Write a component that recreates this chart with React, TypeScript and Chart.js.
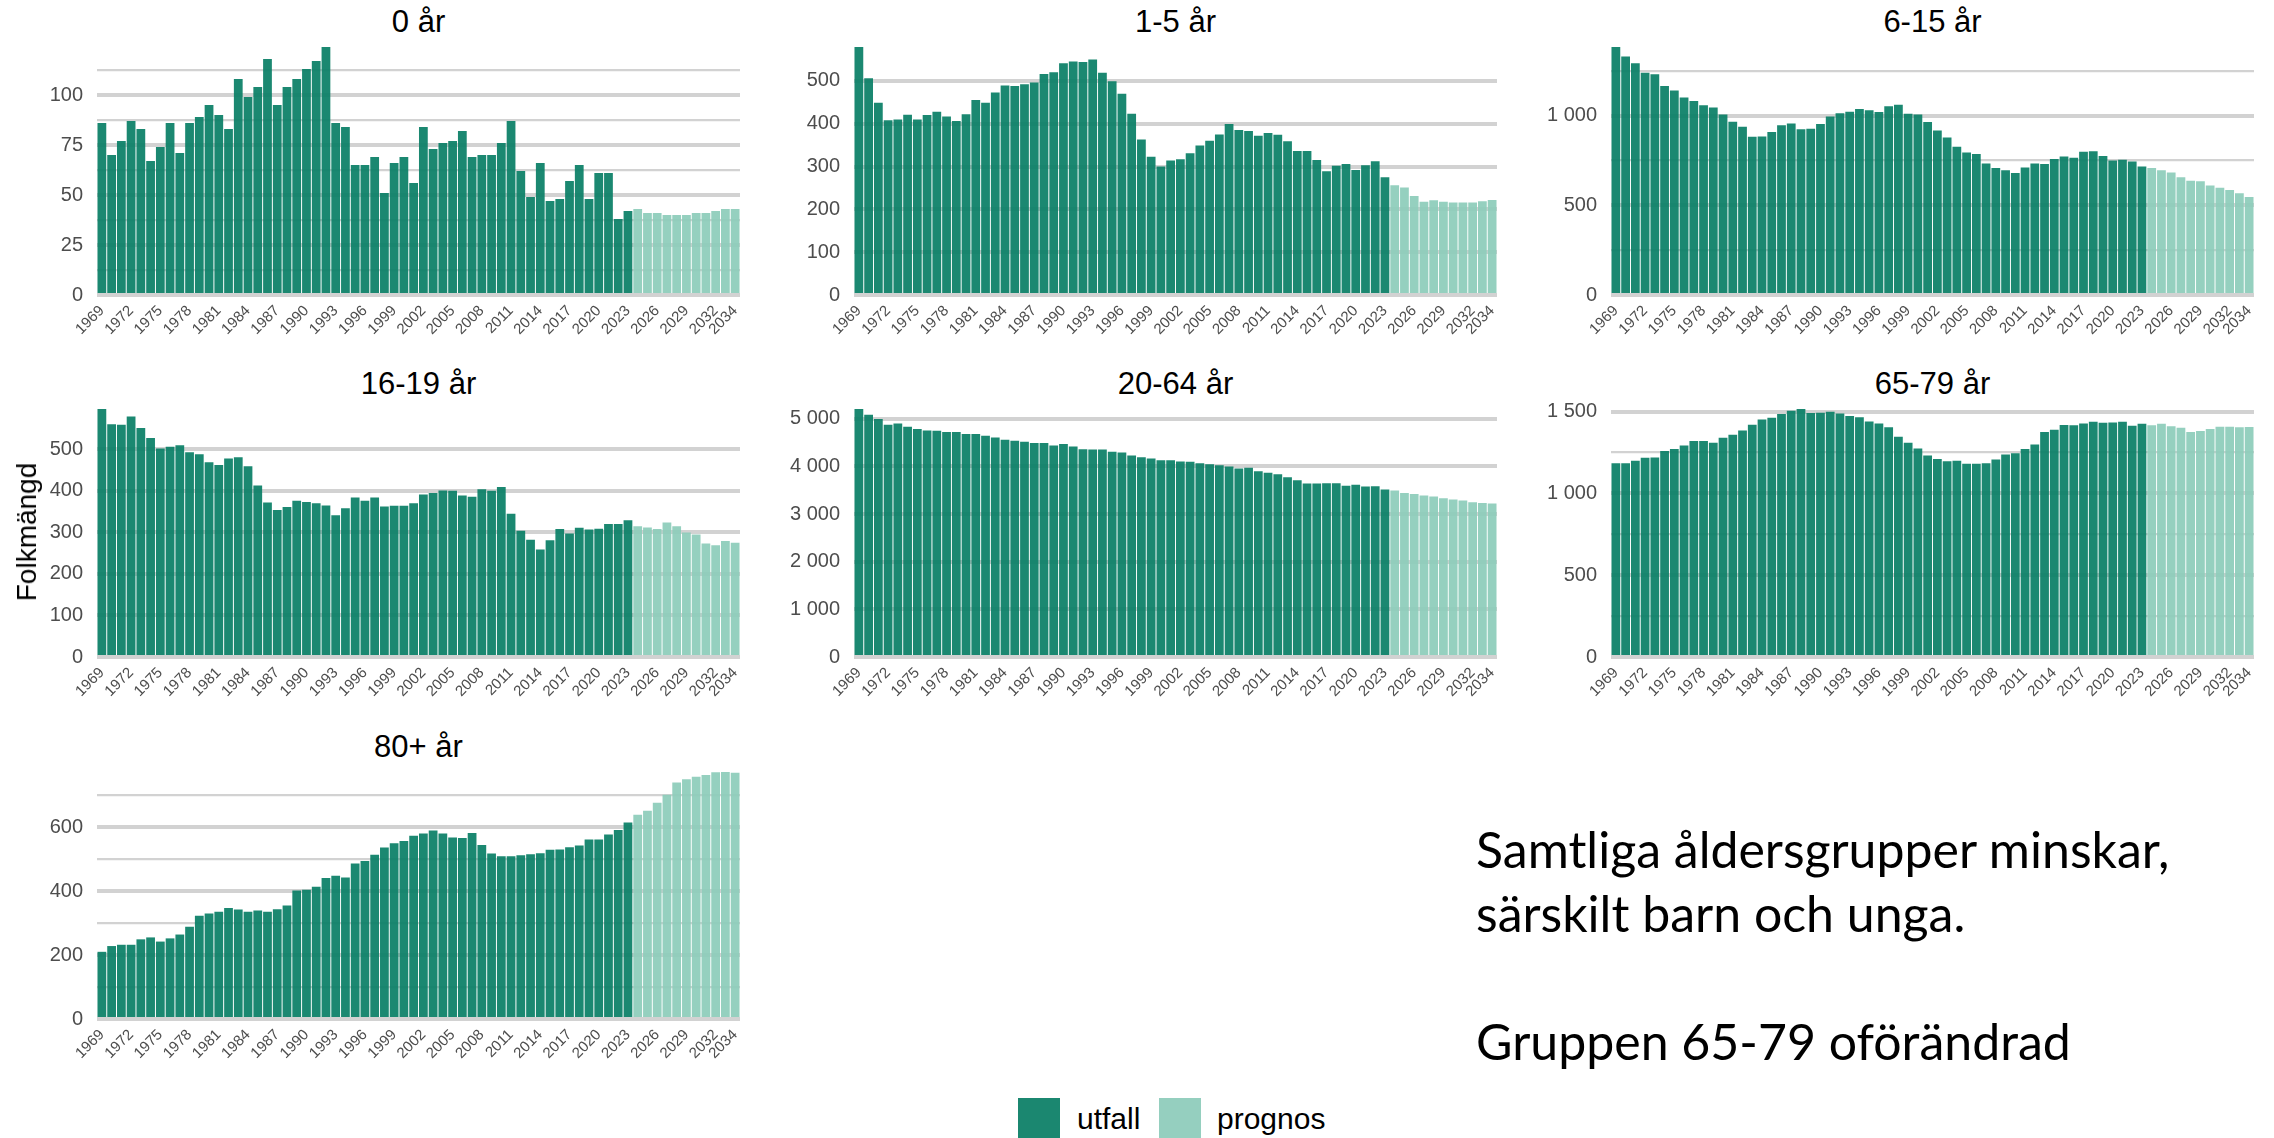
import React, { useEffect, useRef } from 'react';
import { Chart, registerables } from 'chart.js';

Chart.register(...registerables);

// ---------- categories ----------
const YEARS = [
  1969, 1970, 1971, 1972, 1973, 1974, 1975, 1976, 1977, 1978,
  1979, 1980, 1981, 1982, 1983, 1984, 1985, 1986, 1987, 1988,
  1989, 1990, 1991, 1992, 1993, 1994, 1995, 1996, 1997, 1998,
  1999, 2000, 2001, 2002, 2003, 2004, 2005, 2006, 2007, 2008,
  2009, 2010, 2011, 2012, 2013, 2014, 2015, 2016, 2017, 2018,
  2019, 2020, 2021, 2022, 2023, 2024, 2025, 2026, 2027, 2028,
  2029, 2030, 2031, 2032, 2033, 2034,
];

const X_TICK_LABELS = [
  '1969', '1972', '1975', '1978', '1981', '1984', '1987', '1990', '1993', '1996',
  '1999', '2002', '2005', '2008', '2011', '2014', '2017', '2020', '2023', '2026',
  '2029', '2032', '2034',
];

const SERIES_NAMES = ['utfall', 'prognos'];

// ---------- values (utfall 1969-2023, prognos 2024-2034) ----------
const AGE_0_UTFALL = [
  86, 70, 77, 87, 83, 67, 74, 86, 71, 86,
  89, 95, 90, 83, 108, 99, 104, 118, 95, 104,
  108, 113, 117, 124, 86, 84, 65, 65, 69, 51,
  66, 69, 56, 84, 73, 76, 77, 82, 69, 70,
  70, 76, 87, 62, 49, 66, 47, 48, 57, 65,
  48, 61, 61, 38, 42,
];
const AGE_0_PROGNOS = [43, 41, 41, 40, 40, 40, 41, 41, 42, 43, 43];

const AGE_1_5_UTFALL = [
  579, 506, 449, 408, 410, 421, 410, 420, 428, 417,
  406, 422, 455, 449, 473, 489, 488, 492, 496, 516,
  520, 541, 545, 544, 550, 519, 499, 470, 423, 363,
  323, 300, 314, 317, 331, 349, 360, 375, 399, 385,
  383, 372, 378, 374, 359, 336, 336, 315, 289, 302,
  306, 292, 303, 312, 275,
];
const AGE_1_5_PROGNOS = [256, 251, 231, 218, 221, 218, 216, 216, 216, 219, 222];

const AGE_6_15_UTFALL = [
  1383, 1330, 1292, 1240, 1231, 1166, 1141, 1102, 1082, 1058,
  1046, 1007, 966, 938, 883, 884, 909, 946, 957, 925,
  927, 953, 996, 1013, 1022, 1037, 1030, 1020, 1052, 1061,
  1011, 1007, 965, 918, 879, 827, 795, 786, 734, 708,
  696, 680, 711, 734, 730, 758, 773, 765, 799, 801,
  775, 750, 754, 745, 717,
];
const AGE_6_15_PROGNOS = [708, 695, 683, 657, 637, 635, 611, 598, 585, 568, 547];

const AGE_16_19_UTFALL = [
  597, 560, 559, 579, 551, 527, 502, 506, 510, 493,
  488, 469, 462, 478, 481, 459, 413, 372, 354, 361,
  376, 373, 370, 365, 341, 358, 384, 376, 384, 362,
  364, 364, 370, 391, 395, 401, 400, 389, 386, 404,
  400, 409, 345, 304, 282, 259, 281, 308, 297, 311,
  307, 309, 320, 320, 329,
];
const AGE_16_19_PROGNOS = [315, 312, 308, 324, 315, 300, 295, 273, 269, 279, 275];

const AGE_20_64_UTFALL = [
  5204, 5084, 4993, 4874, 4902, 4832, 4783, 4755, 4748, 4720,
  4720, 4678, 4678, 4643, 4608, 4558, 4537, 4516, 4488, 4488,
  4439, 4467, 4418, 4362, 4355, 4355, 4306, 4292, 4229, 4194,
  4166, 4131, 4131, 4103, 4096, 4068, 4046, 4025, 3997, 3955,
  3969, 3899, 3864, 3836, 3773, 3710, 3640, 3640, 3647, 3647,
  3591, 3612, 3577, 3584, 3513,
];
const AGE_20_64_PROGNOS = [3492, 3443, 3422, 3387, 3366, 3331, 3303, 3282, 3247, 3233, 3219];

const AGE_65_79_UTFALL = [
  1185, 1185, 1200, 1218, 1220, 1259, 1271, 1293, 1320, 1320,
  1310, 1340, 1359, 1385, 1420, 1452, 1463, 1485, 1506, 1516,
  1491, 1493, 1499, 1489, 1473, 1465, 1440, 1428, 1404, 1346,
  1310, 1275, 1232, 1210, 1197, 1200, 1181, 1181, 1185, 1208,
  1238, 1246, 1271, 1299, 1375, 1389, 1418, 1416, 1428, 1438,
  1432, 1434, 1438, 1414, 1426,
];
const AGE_65_79_PROGNOS = [1416, 1426, 1410, 1401, 1375, 1381, 1393, 1408, 1408, 1404, 1406];

const AGE_80_UTFALL = [
  210, 228, 232, 232, 249, 255, 242, 252, 264, 288,
  323, 330, 335, 347, 342, 335, 339, 335, 343, 355,
  402, 404, 413, 441, 448, 442, 486, 494, 513, 536,
  549, 556, 573, 580, 589, 580, 567, 566, 581, 544,
  517, 509, 509, 512, 515, 518, 529, 530, 537, 542,
  561, 561, 577, 591, 614,
];
const AGE_80_PROGNOS = [638, 651, 676, 701, 739, 749, 757, 763, 771, 772, 770];

const PANEL_TITLES = ['0 år', '1-5 år', '6-15 år', '16-19 år', '20-64 år', '65-79 år', '80+ år'];
const Y_TICK_STEPS = [25, 100, 500, 100, 1000, 500, 200];

const NOTE_LINES = ['Samtliga åldersgrupper minskar,', 'särskilt barn och unga.', '', 'Gruppen 65-79 oförändrad'];
const Y_TITLE = 'Folkmängd';

// ---------- styles / layout ----------
const UTFALL_COLOR = 'rgba(8, 126, 101, 0.92)';
const UTFALL_SWATCH = '#1b8770';
const PROGNOS_COLOR = 'rgba(140, 204, 186, 0.92)';
const PROGNOS_SWATCH = '#95cfbf';
const GRID_COLOR = '#d2d2d2';
const TICK_COLOR = '#4d4d4d';
const FONT = "'Liberation Sans', Arial, sans-serif";

const PANEL_RECTS = [
  { x: 97, y: 47, w: 643, h: 248 },
  { x: 854, y: 47, w: 643, h: 248 },
  { x: 1611, y: 47, w: 643, h: 248 },
  { x: 97, y: 409, w: 643, h: 248 },
  { x: 854, y: 409, w: 643, h: 248 },
  { x: 1611, y: 409, w: 643, h: 248 },
  { x: 97, y: 772, w: 643, h: 247 },
];

const AXW = 90;
const AXH = 64;
const PADT = 6;
const PADR = 6;

function fmtThousands(v: number): string {
  return String(v).replace(/\B(?=(\d{3})+(?!\d))/g, ' ');
}

type PanelProps = {
  title: string;
  utfall: number[];
  prognos: number[];
  step: number;
  rect: { x: number; y: number; w: number; h: number };
};

function Panel({ title, utfall, prognos, step, rect }: PanelProps) {
  const ref = useRef<HTMLCanvasElement | null>(null);
  const cw = rect.w + AXW + PADR;
  const ch = rect.h + PADT + AXH;

  useEffect(() => {
    if (!ref.current) return;
    const n = utfall.length;
    const yMax = Math.max(...utfall, ...prognos);
    const chart = new Chart(ref.current, {
      type: 'bar',
      data: {
        labels: YEARS.map(String),
        datasets: [
          {
            label: SERIES_NAMES[0],
            data: YEARS.map((_, i) => (i < n ? utfall[i] : null)),
            backgroundColor: UTFALL_COLOR,
            grouped: false,
            barPercentage: 0.9,
            categoryPercentage: 1,
            borderWidth: 0,
          },
          {
            label: SERIES_NAMES[1],
            data: YEARS.map((_, i) => (i >= n ? prognos[i - n] : null)),
            backgroundColor: PROGNOS_COLOR,
            grouped: false,
            barPercentage: 0.9,
            categoryPercentage: 1,
            borderWidth: 0,
          },
        ],
      },
      options: {
        responsive: false,
        animation: false,
        devicePixelRatio: 1,
        layout: { padding: { top: PADT, right: PADR, left: 0, bottom: 0 } },
        plugins: {
          legend: { display: false },
          tooltip: { enabled: false },
          title: { display: false },
        },
        scales: {
          x: {
            grid: { display: false, drawTicks: false },
            border: { display: false },
            ticks: {
              autoSkip: false,
              maxRotation: 45,
              minRotation: 45,
              padding: 7,
              color: TICK_COLOR,
              font: { size: 15, family: FONT },
              callback: function (this: any, value: any) {
                const l = this.getLabelForValue(value);
                return X_TICK_LABELS.includes(l) ? l : '';
              },
            },
            afterFit: (s: any) => {
              s.height = AXH;
              s.paddingLeft = 0;
              s.paddingRight = 0;
            },
          },
          y: {
            min: 0,
            max: yMax,
            grid: {
              drawTicks: false,
              color: GRID_COLOR,
              lineWidth: (c: any) => (c.tick && c.tick.value % step === 0 ? 4 : 2.2),
            },
            border: { display: false },
            ticks: {
              padding: 14,
              color: TICK_COLOR,
              font: { size: 20, family: FONT },
              callback: (v: any) => (Number(v) % step === 0 ? fmtThousands(Number(v)) : ''),
            },
            afterBuildTicks: (s: any) => {
              const t: { value: number }[] = [];
              for (let v = 0; v <= yMax + 1e-9; v += step / 2) t.push({ value: v });
              s.ticks = t;
            },
            afterFit: (s: any) => {
              s.width = AXW;
              s.paddingTop = 0;
              s.paddingBottom = 0;
            },
          },
        },
      },
    } as any);
    return () => chart.destroy();
  }, []);

  return (
    <>
      <div
        style={{
          position: 'absolute',
          left: rect.x,
          width: rect.w,
          top: rect.y - 25 - 20,
          height: 40,
          lineHeight: '40px',
          textAlign: 'center',
          fontFamily: FONT,
          fontSize: 31,
          color: '#000',
        }}
      >
        {title}
      </div>
      <canvas
        ref={ref}
        width={cw}
        height={ch}
        style={{ position: 'absolute', left: rect.x - AXW, top: rect.y - PADT, width: cw, height: ch }}
      />
    </>
  );
}

export default function App() {
  const data = [
    [AGE_0_UTFALL, AGE_0_PROGNOS],
    [AGE_1_5_UTFALL, AGE_1_5_PROGNOS],
    [AGE_6_15_UTFALL, AGE_6_15_PROGNOS],
    [AGE_16_19_UTFALL, AGE_16_19_PROGNOS],
    [AGE_20_64_UTFALL, AGE_20_64_PROGNOS],
    [AGE_65_79_UTFALL, AGE_65_79_PROGNOS],
    [AGE_80_UTFALL, AGE_80_PROGNOS],
  ];
  return (
    <div
      style={{
        position: 'absolute',
        left: 0,
        top: 0,
        width: 2274,
        height: 1138,
        overflow: 'hidden',
        background: '#fff',
        fontFamily: FONT,
      }}
    >
      {PANEL_TITLES.map((t, i) => (
        <Panel
          key={t}
          title={t}
          utfall={data[i][0]}
          prognos={data[i][1]}
          step={Y_TICK_STEPS[i]}
          rect={PANEL_RECTS[i]}
        />
      ))}

      <div
        style={{
          position: 'absolute',
          left: 27,
          top: 532,
          transform: 'translate(-50%, -50%) rotate(-90deg)',
          whiteSpace: 'nowrap',
          fontSize: 28,
          fontFamily: FONT,
          color: '#000',
        }}
      >
        {Y_TITLE}
      </div>

      <div
        style={{
          position: 'absolute',
          left: 1476,
          top: 817,
          fontFamily: "Lato, 'Open Sans', sans-serif",
          fontSize: 50,
          lineHeight: '64px',
          color: '#000',
          whiteSpace: 'pre',
        }}
      >
        {NOTE_LINES.map((l, i) => (
          <div key={i} style={{ height: 64 }}>{l}</div>
        ))}
      </div>

      <div style={{ position: 'absolute', left: 1018, top: 1098, width: 42, height: 42, background: UTFALL_SWATCH }} />
      <div
        style={{ position: 'absolute', left: 1077, top: 1099, lineHeight: '40px', fontSize: 30, fontFamily: FONT, color: '#000' }}
      >
        {SERIES_NAMES[0]}
      </div>
      <div style={{ position: 'absolute', left: 1159, top: 1098, width: 42, height: 42, background: PROGNOS_SWATCH }} />
      <div
        style={{ position: 'absolute', left: 1217, top: 1099, lineHeight: '40px', fontSize: 30, fontFamily: FONT, color: '#000' }}
      >
        {SERIES_NAMES[1]}
      </div>
    </div>
  );
}
